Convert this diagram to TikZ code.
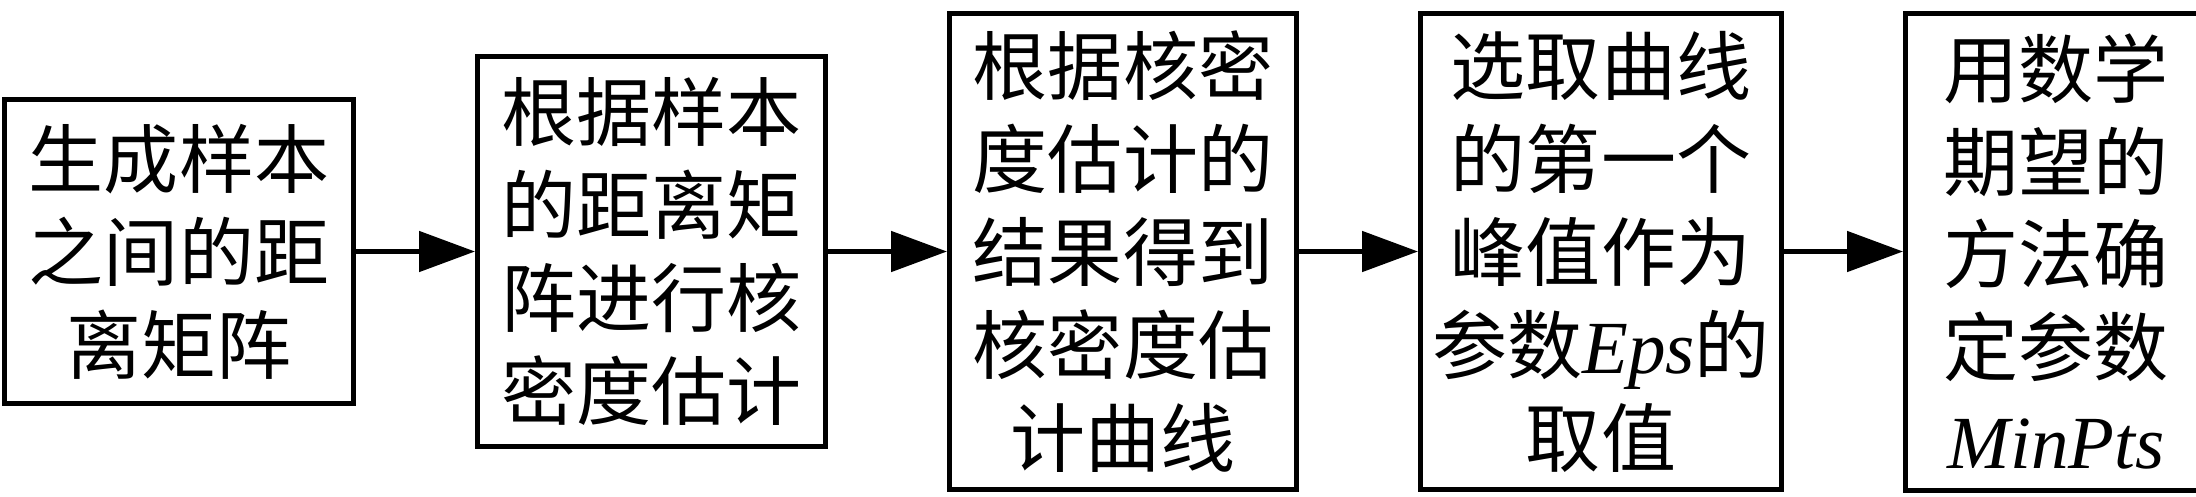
\documentclass[tikz,border=0pt]{standalone}
\usepackage{fontspec}
\setmainfont{Noto Sans CJK SC}
\newfontfamily\tnr{Liberation Serif}
\usetikzlibrary{positioning,arrows.meta}

\begin{document}
\begin{tikzpicture}[
    stepbox/.style={draw, line width=0.1cm, align=center, inner sep=0pt,
        font=\fontsize{42.7}{52.9}\selectfont},
    flow/.style={line width=0.1cm, -{Triangle[length=1.12cm,width=0.8cm]}},
    node distance=2.38cm]
\useasboundingbox (0,0) rectangle (43.92,-9.92);
\node[stepbox, minimum width=6.98cm, minimum height=6.08cm] (dist) at (3.58,-5.03)
    {生成样本\\之间的距\\离矩阵};
\node[stepbox, minimum width=6.96cm, minimum height=7.8cm, right=of dist] (kde)
    {根据样本\\的距离矩\\阵进行核\\密度估计};
\node[stepbox, minimum width=6.94cm, minimum height=9.52cm, right=of kde] (curve)
    {根据核密\\度估计的\\结果得到\\核密度估\\计曲线};
\node[stepbox, minimum width=7.22cm, minimum height=9.52cm, right=of curve] (eps)
    {选取曲线\\的第一个\\峰值作为\\参数{\tnr\itshape Eps}的\\取值};
\node[stepbox, minimum width=6.02cm, minimum height=9.54cm, right=of eps] (minpts)
    {用数学\\期望的\\方法确\\定参数\\{\tnr\itshape MinPts}};
\draw[flow] (dist) -- (kde);
\draw[flow] (kde) -- (curve);
\draw[flow] (curve) -- (eps);
\draw[flow] (eps) -- (minpts);
\end{tikzpicture}
\end{document}
